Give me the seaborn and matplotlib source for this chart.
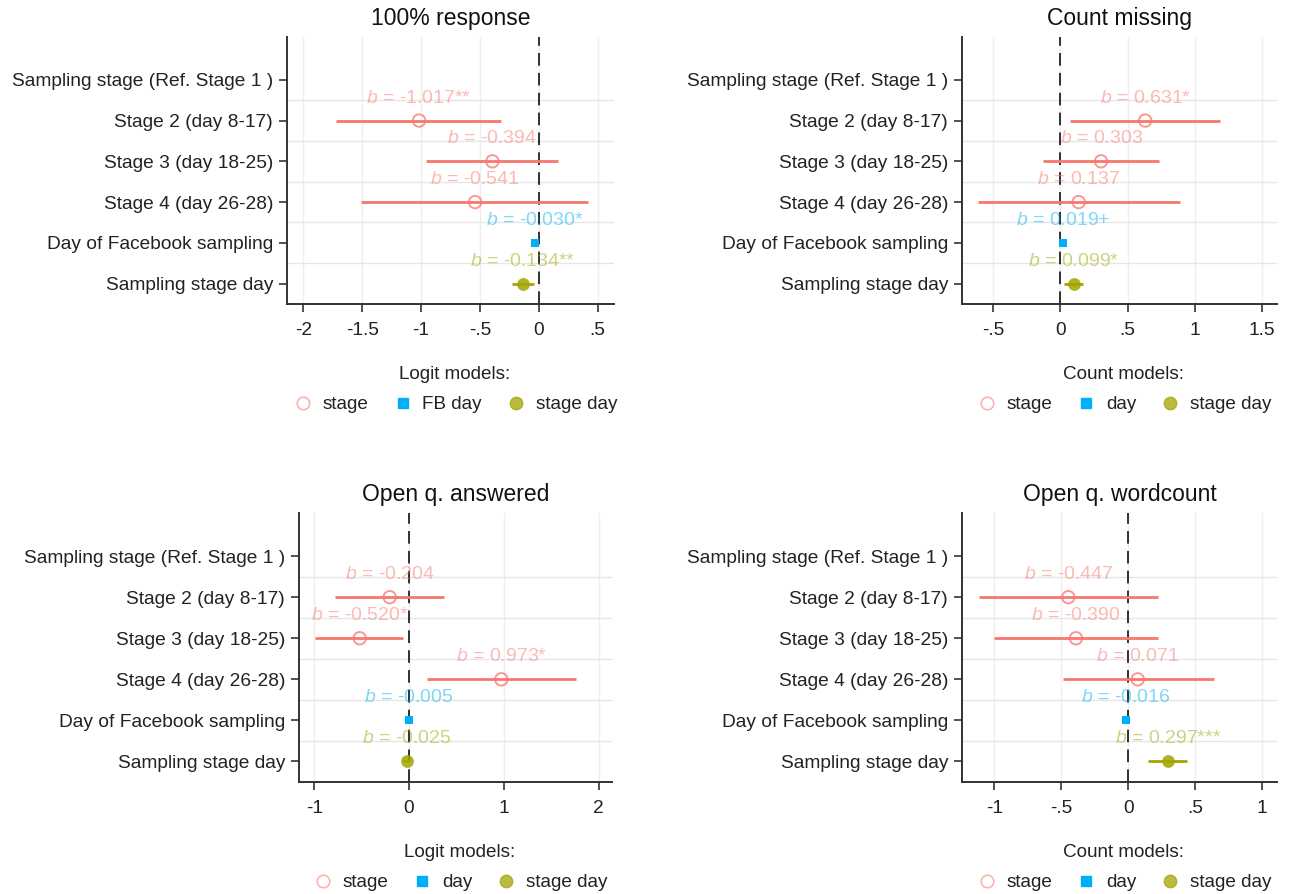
import numpy as np
import pandas as pd
import matplotlib
matplotlib.use("Agg")
import matplotlib.pyplot as plt
import seaborn as sns
from matplotlib.lines import Line2D

sns.set_theme(style="white")
plt.rcParams['font.family'] = ['Liberation Sans', 'DejaVu Sans']
plt.rcParams['mathtext.fontset'] = 'custom'
plt.rcParams['mathtext.it'] = 'Liberation Sans:italic'
plt.rcParams['mathtext.rm'] = 'Liberation Sans'

# ---------------- data ----------------
row_labels = ["Sampling stage (Ref. Stage 1 )", "Stage 2 (day 8-17)", "Stage 3 (day 18-25)",
              "Stage 4 (day 26-28)", "Day of Facebook sampling", "Sampling stage day"]
terms = ["Stage 2 (day 8-17)", "Stage 3 (day 18-25)", "Stage 4 (day 26-28)",
         "Day of Facebook sampling", "Sampling stage day"]
term_model = ["stage", "stage", "stage", "day", "stageday"]

titles = ["100% response", "Count missing", "Open q. answered", "Open q. wordcount"]
legend_titles = ["Logit models:", "Count models:", "Logit models:", "Count models:"]
legend_labels = [["stage", "FB day", "stage day"],
                 ["stage", "day", "stage day"],
                 ["stage", "day", "stage day"],
                 ["stage", "day", "stage day"]]

coef_response = [-1.017, -0.394, -0.541, -0.030, -0.134]
lo_response = [-1.72, -0.96, -1.51, -0.05, -0.23]
hi_response = [-0.32, 0.16, 0.42, -0.01, -0.04]
stars_response = ["**", "", "", "*", "**"]

coef_missing = [0.631, 0.303, 0.137, 0.019, 0.099]
lo_missing = [0.07, -0.13, -0.61, 0.00, 0.025]
hi_missing = [1.19, 0.73, 0.89, 0.04, 0.17]
stars_missing = ["*", "", "", "+", "*"]

coef_answered = [-0.204, -0.520, 0.973, -0.005, -0.025]
lo_answered = [-0.78, -0.99, 0.19, -0.02, -0.06]
hi_answered = [0.37, -0.06, 1.76, 0.01, 0.01]
stars_answered = ["", "*", "*", "", ""]

coef_wordcount = [-0.447, -0.390, 0.071, -0.016, 0.297]
lo_wordcount = [-1.11, -1.00, -0.49, -0.03, 0.15]
hi_wordcount = [0.22, 0.22, 0.64, 0.00, 0.44]
stars_wordcount = ["", "", "", "", "***"]

xticks_list = [[-2, -1.5, -1, -0.5, 0, 0.5], [-0.5, 0, 0.5, 1, 1.5], [-1, 0, 1, 2], [-1, -0.5, 0, 0.5, 1]]
xticklabels_list = [["-2", "-1.5", "-1", "-.5", "0", ".5"], ["-.5", "0", ".5", "1", "1.5"],
                    ["-1", "0", "1", "2"], ["-1", "-.5", "0", ".5", "1"]]
xlims = [(-2.14, 0.64), (-0.73, 1.61), (-1.16, 2.14), (-1.24, 1.11)]

panels = [(coef_response, lo_response, hi_response, stars_response),
          (coef_missing, lo_missing, hi_missing, stars_missing),
          (coef_answered, lo_answered, hi_answered, stars_answered),
          (coef_wordcount, lo_wordcount, hi_wordcount, stars_wordcount)]

# ---------------- style ----------------
col = {"stage": "#F8766D", "day": "#00B0F6", "stageday": "#A3A500"}
W, H = 1291, 894
boxes = [(287, 37, 614, 304), (962, 37, 1277, 304), (299, 513, 612, 782), (962, 513, 1277, 782)]
FS = 13.8
LFS = 13.6

fig = plt.figure(figsize=(W / 100, H / 100), dpi=100)
fig.patch.set_facecolor("white")

for i, (coef, lo, hi, stars) in enumerate(panels):
    l, t, r, b = boxes[i]
    ax = fig.add_axes([l / W, 1 - b / H, (r - l) / W, (b - t) / H])
    df = pd.DataFrame({"term": terms, "model": term_model, "b": coef, "lo": lo, "hi": hi, "star": stars})
    df["pos"] = [row_labels.index(tm) for tm in df["term"]]

    ax.set_xlim(*xlims[i])
    ax.set_ylim(len(row_labels) - 0.5, -1.05)

    # grid
    for xv in xticks_list[i]:
        ax.axvline(xv, color="#eeeeee", lw=1.0, zorder=0)
    for yv in np.arange(0.5, len(row_labels) - 1, 1.0):
        ax.axhline(yv, color="#e6e6e6", lw=1.0, zorder=0)
    ax.axvline(0, color="#222222", lw=1.3, ls=(0, (7, 4)), zorder=1)

    # CIs
    for _, rw in df.iterrows():
        ax.hlines(rw["pos"], rw["lo"], rw["hi"], color=col[rw["model"]], lw=2.0, zorder=2)

    # markers
    d = df[df.model == "stage"]
    sns.scatterplot(data=d, x="b", y="pos", ax=ax, marker="o", s=80, facecolor="none",
                    edgecolor=col["stage"], linewidth=1.4, alpha=0.75, zorder=3, legend=False)
    d = df[df.model == "day"]
    sns.scatterplot(data=d, x="b", y="pos", ax=ax, marker="s", s=38, color=col["day"],
                    edgecolor=col["day"], linewidth=0, zorder=3, legend=False)
    d = df[df.model == "stageday"]
    sns.scatterplot(data=d, x="b", y="pos", ax=ax, marker="o", s=85, color=col["stageday"],
                    edgecolor=col["stageday"], linewidth=0, alpha=0.85, zorder=3, legend=False)

    # labels
    for _, rw in df.iterrows():
        ax.text(rw["b"], rw["pos"] - 0.55, f"$b$ = {rw['b']:.3f}{rw['star']}", ha="center", va="center",
                fontsize=14, color=col[rw["model"]], alpha=0.5, zorder=4)

    ax.set_yticks(range(len(row_labels)))
    ax.set_yticklabels(row_labels, fontsize=FS, color="#222222")
    ax.set_xticks(xticks_list[i])
    ax.set_xticklabels(xticklabels_list[i], fontsize=FS, color="#222222")
    ax.set_xlabel("")
    ax.set_ylabel("")
    ax.tick_params(axis="y", length=6, width=1.2, color="#333333", pad=4, left=True)
    ax.tick_params(axis="x", length=6, width=1.2, color="#333333", pad=7, bottom=True)
    for s in ["top", "right"]:
        ax.spines[s].set_visible(False)
    for s in ["left", "bottom"]:
        ax.spines[s].set_color("#333333")
        ax.spines[s].set_linewidth(1.4)
    ax.set_facecolor("white")
    ax.set_title(titles[i], fontsize=16.5, color="#111111", pad=9)

    handles = [Line2D([], [], ls="none", marker="o", ms=9, mfc="none", mec=col["stage"], mew=1.2, alpha=0.55),
               Line2D([], [], ls="none", marker="s", ms=6.5, mfc=col["day"], mec=col["day"]),
               Line2D([], [], ls="none", marker="o", ms=9, mfc=col["stageday"], mec=col["stageday"], alpha=0.75)]
    cx = (l + r) / 2 / W + 4 / W
    cy = 1 - (b + 62) / H
    leg = ax.legend(handles, legend_labels[i], title=legend_titles[i], loc="upper center",
                    bbox_to_anchor=(cx, cy), bbox_transform=fig.transFigure, ncol=3, frameon=False,
                    fontsize=LFS, title_fontsize=LFS, handletextpad=0.45, columnspacing=1.2,
                    borderpad=0, borderaxespad=0, handlelength=1.2, labelspacing=0.7)
    for txt in leg.get_texts():
        txt.set_color("#222222")
    leg.get_title().set_color("#222222")

fig.savefig("out.png", dpi=100, facecolor="white")
